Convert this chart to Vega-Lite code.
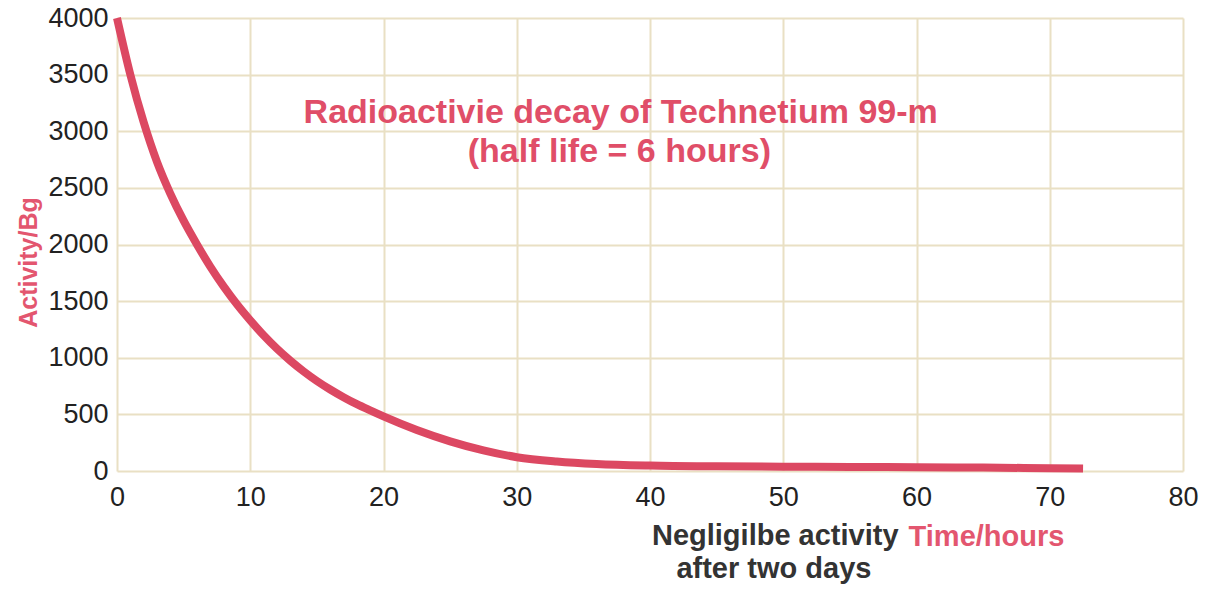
{
  "$schema": "https://vega.github.io/schema/vega-lite/v6.json",
  "autosize": "none",
  "width": 1066,
  "height": 453,
  "padding": {"left": 117, "top": 18, "right": 24, "bottom": 120},
  "background": "#ffffff",
  "config": {
    "view": {"stroke": null},
    "font": "Liberation Sans"
  },
  "datasets": {
    "curve": [
      {"t": 0, "activity": 4000},
      {"t": 1, "activity": 3500},
      {"t": 2, "activity": 3080},
      {"t": 3, "activity": 2730},
      {"t": 4, "activity": 2450},
      {"t": 5, "activity": 2210},
      {"t": 6, "activity": 2000},
      {"t": 7, "activity": 1805},
      {"t": 8, "activity": 1630},
      {"t": 9, "activity": 1472},
      {"t": 10, "activity": 1330},
      {"t": 11, "activity": 1198},
      {"t": 12, "activity": 1080},
      {"t": 13, "activity": 975},
      {"t": 14, "activity": 880},
      {"t": 15, "activity": 795},
      {"t": 16, "activity": 720},
      {"t": 17, "activity": 652},
      {"t": 18, "activity": 590},
      {"t": 19, "activity": 535},
      {"t": 20, "activity": 482},
      {"t": 22.5, "activity": 362},
      {"t": 25, "activity": 262},
      {"t": 27.5, "activity": 182},
      {"t": 30, "activity": 122},
      {"t": 33, "activity": 84},
      {"t": 36, "activity": 62},
      {"t": 40, "activity": 48},
      {"t": 45, "activity": 41},
      {"t": 50, "activity": 38},
      {"t": 55, "activity": 36},
      {"t": 60, "activity": 34},
      {"t": 65, "activity": 30},
      {"t": 70, "activity": 25},
      {"t": 72.5, "activity": 22}
    ],
    "headline": [
      {"x": 37.8, "y": 3073, "label": "Radioactivie decay of Technetium 99-m"},
      {"x": 37.7, "y": 2728, "label": "(half life = 6 hours)"}
    ],
    "note": [
      {"x": 49.4, "y": -653, "label": "Negligilbe activity"},
      {"x": 49.3, "y": -945, "label": "after two days"}
    ]
  },
  "layer": [
    {
      "data": {"name": "curve"},
      "mark": {"type": "line", "color": "#dc4862", "strokeWidth": 8, "strokeCap": "butt", "strokeJoin": "round", "interpolate": "monotone", "clip": false},
      "encoding": {
        "x": {
          "field": "t", "type": "quantitative",
          "scale": {"domain": [0, 80], "nice": false},
          "axis": {
            "values": [0, 10, 20, 30, 40, 50, 60, 70, 80],
            "grid": true, "gridColor": "#e9e0c4", "gridWidth": 2,
            "domain": false, "ticks": false,
            "labelFlush": false,
            "labelFont": "Liberation Sans", "labelFontSize": 27, "labelColor": "#222222",
            "labelPadding": 13,
            "title": "Time/hours",
            "titleFont": "Liberation Sans", "titleFontSize": 29, "titleFontWeight": "bold",
            "titleColor": "#e3566f",
            "titleAnchor": "start", "titleAlign": "center",
            "titleX": 869, "titleY": 74, "titleBaseline": "alphabetic"
          }
        },
        "y": {
          "field": "activity", "type": "quantitative",
          "scale": {"domain": [0, 4000], "nice": false},
          "axis": {
            "values": [0, 500, 1000, 1500, 2000, 2500, 3000, 3500, 4000],
            "format": "d",
            "grid": true, "gridColor": "#e9e0c4", "gridWidth": 2,
            "domain": false, "ticks": false,
            "labelFlush": false,
            "labelFont": "Liberation Sans", "labelFontSize": 27, "labelColor": "#222222",
            "labelPadding": 9,
            "title": "Activity/Bg",
            "titleFont": "Liberation Sans", "titleFontSize": 25, "titleFontWeight": "bold",
            "titleColor": "#e3566f",
            "titleAngle": -90, "titleAlign": "center", "titleBaseline": "middle",
            "titleX": -89, "titleY": 244
          }
        }
      }
    },
    {
      "data": {"name": "headline"},
      "mark": {"type": "text", "font": "Liberation Sans", "fontSize": 34, "fontWeight": "bold", "color": "#e04e68", "align": "center", "baseline": "alphabetic"},
      "encoding": {
        "x": {"field": "x", "type": "quantitative"},
        "y": {"field": "y", "type": "quantitative"},
        "text": {"field": "label"}
      }
    },
    {
      "data": {"name": "note"},
      "mark": {"type": "text", "font": "Liberation Sans", "fontSize": 29, "fontWeight": "bold", "color": "#333333", "align": "center", "baseline": "alphabetic", "clip": false},
      "encoding": {
        "x": {"field": "x", "type": "quantitative"},
        "y": {"field": "y", "type": "quantitative"},
        "text": {"field": "label"}
      }
    }
  ]
}
